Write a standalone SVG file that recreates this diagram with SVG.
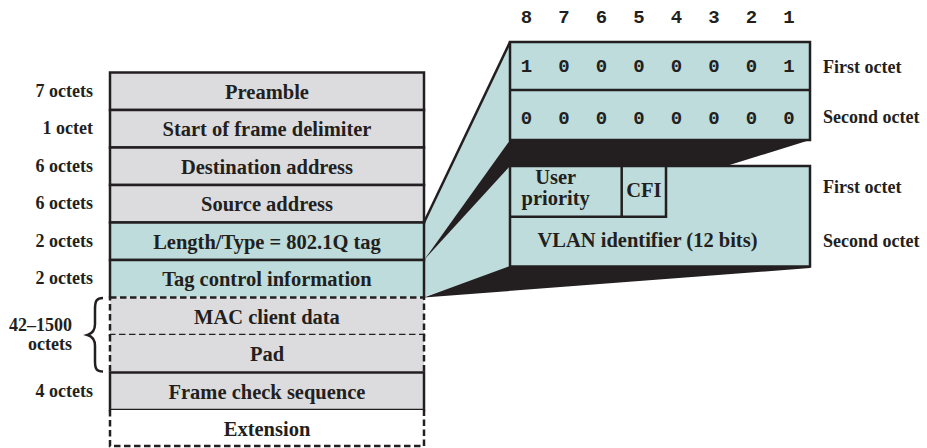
<svg xmlns="http://www.w3.org/2000/svg" width="927" height="448" viewBox="0 0 927 448">
<style>
.gray{fill:#dcdcde}
.teal{fill:#bddcdb}
.white{fill:#ffffff}
.solid{stroke:#231f20;stroke-width:2.5;fill:none}
.dash{stroke:#231f20;stroke-width:2.5;fill:none;stroke-dasharray:6.5 3.5}
.blk{fill:#231f20}
text{font-family:'Liberation Serif','Times New Roman','DejaVu Serif',serif;font-weight:bold;fill:#231f20}
.lbl{font-size:20.5px;text-anchor:middle}
.side{font-size:18px;text-anchor:end}
.rl{font-size:18px;text-anchor:start}
.bit text{font-family:'Liberation Mono','Courier New','DejaVu Sans Mono',monospace;font-size:19px;text-anchor:middle}
</style>

<g id="connectors">
  <polygon class="teal" points="424,222.5 510,42 510,140 424,260"/>
  <polygon class="blk" points="424,260 510,140 810,140"/>
  <polygon class="teal" points="424,260 510,166 510,267 424,297"/>
  <polygon class="blk" points="424,297.5 510,266 810,266 810,268"/>
  <line class="solid" x1="424" y1="222.5" x2="510" y2="42"/>
</g>

<g id="preamble">
  <rect class="gray" x="110" y="72.5" width="314" height="37.5"/>
  <rect class="solid" x="110" y="72.5" width="314" height="37.5"/>
  <text class="lbl" x="267" y="98.5">Preamble</text>
  <text class="side" x="93" y="96.8">7 octets</text>
</g>
<g id="sfd">
  <rect class="gray" x="110" y="110" width="314" height="37.5"/>
  <rect class="solid" x="110" y="110" width="314" height="37.5"/>
  <text class="lbl" x="267" y="136">Start of frame delimiter</text>
  <text class="side" x="93" y="134.3">1 octet</text>
</g>
<g id="dest">
  <rect class="gray" x="110" y="147.5" width="314" height="37.5"/>
  <rect class="solid" x="110" y="147.5" width="314" height="37.5"/>
  <text class="lbl" x="267" y="173.5">Destination address</text>
  <text class="side" x="93" y="171.8">6 octets</text>
</g>
<g id="src">
  <rect class="gray" x="110" y="185" width="314" height="37.5"/>
  <rect class="solid" x="110" y="185" width="314" height="37.5"/>
  <text class="lbl" x="267" y="211">Source address</text>
  <text class="side" x="93" y="209.3">6 octets</text>
</g>
<g id="lentype">
  <rect class="teal" x="110" y="222.5" width="314" height="37.5"/>
  <rect class="solid" x="110" y="222.5" width="314" height="37.5"/>
  <text class="lbl" x="267" y="248.5">Length/Type = 802.1Q tag</text>
  <text class="side" x="93" y="246.8">2 octets</text>
</g>
<g id="tci">
  <rect class="teal" x="110" y="260" width="314" height="37.5"/>
  <path class="solid" d="M110,297.5 V260 H424 V297.5"/>
  <text class="lbl" x="267" y="286">Tag control information</text>
  <text class="side" x="93" y="284.3">2 octets</text>
</g>
<g id="macdata">
  <rect class="gray" x="110" y="297.5" width="314" height="37.5"/>
  <rect class="dash" x="110" y="297.5" width="314" height="37.5"/>
  <text class="lbl" x="267" y="323.5">MAC client data</text>
</g>
<g id="pad">
  <rect class="gray" x="110" y="335" width="314" height="37.5"/>
  <path class="dash" d="M110,335 V372.5 M424,335 V372.5"/>
  <text class="lbl" x="267" y="361">Pad</text>
</g>
<g id="datalen">
  <path class="solid" d="M103,298 C96.5,298 95,301 95,309 L95,324 C95,330.5 92.5,333.5 87.5,335 C92.5,336.5 95,339.5 95,346 L95,361 C95,369 96.5,371.5 103,371.5"/>
  <text class="side" x="72" y="330.7">42–1500</text>
  <text class="side" x="72" y="350">octets</text>
</g>
<g id="fcs">
  <rect class="gray" x="110" y="372.5" width="314" height="37.5"/>
  <rect class="solid" x="110" y="372.5" width="314" height="37.5"/>
  <text class="lbl" x="267" y="398.5">Frame check sequence</text>
  <text class="side" x="93" y="396.8">4 octets</text>
</g>
<g id="extension">
  <rect class="white" x="110" y="410" width="314" height="36"/>
  <path class="dash" d="M110,410 V446 H424 V410"/>
  <text class="lbl" x="267" y="435.5">Extension</text>
</g>

<g id="tpid">
  <rect class="teal" x="510" y="42" width="300" height="98"/>
  <rect class="solid" x="510" y="42" width="300" height="98"/>
  <line class="solid" x1="510" y1="90" x2="810" y2="90"/>
  <g class="bit">
    <text x="526.5" y="23">8</text><text x="564" y="23">7</text><text x="601.5" y="23">6</text><text x="639" y="23">5</text>
    <text x="676.5" y="23">4</text><text x="714" y="23">3</text><text x="751.5" y="23">2</text><text x="789" y="23">1</text>
    <text x="526.5" y="72">1</text><text x="564" y="72">0</text><text x="601.5" y="72">0</text><text x="639" y="72">0</text>
    <text x="676.5" y="72">0</text><text x="714" y="72">0</text><text x="751.5" y="72">0</text><text x="789" y="72">1</text>
    <text x="526.5" y="123.5">0</text><text x="564" y="123.5">0</text><text x="601.5" y="123.5">0</text><text x="639" y="123.5">0</text>
    <text x="676.5" y="123.5">0</text><text x="714" y="123.5">0</text><text x="751.5" y="123.5">0</text><text x="789" y="123.5">0</text>
  </g>
  <text class="rl" x="823" y="72.7">First octet</text>
  <text class="rl" x="823" y="123.3">Second octet</text>
</g>

<g id="tci-detail">
  <rect class="teal" x="510" y="166" width="300" height="100.5"/>
  <rect class="solid" x="510" y="166" width="300" height="100.5"/>
  <path class="solid" d="M510,216.7 H666 V166 M621.7,166 V216.7"/>
  <text class="lbl" font-size="19" x="555.7" y="184">User</text>
  <text class="lbl" font-size="19" x="555.7" y="204.5">priority</text>
  <text class="lbl" font-size="19" x="643.8" y="196.7">CFI</text>
  <text class="lbl" x="647.5" y="247">VLAN identifier (12 bits)</text>
  <text class="rl" x="823" y="192.7">First octet</text>
  <text class="rl" x="823" y="246.7">Second octet</text>
</g>
</svg>
